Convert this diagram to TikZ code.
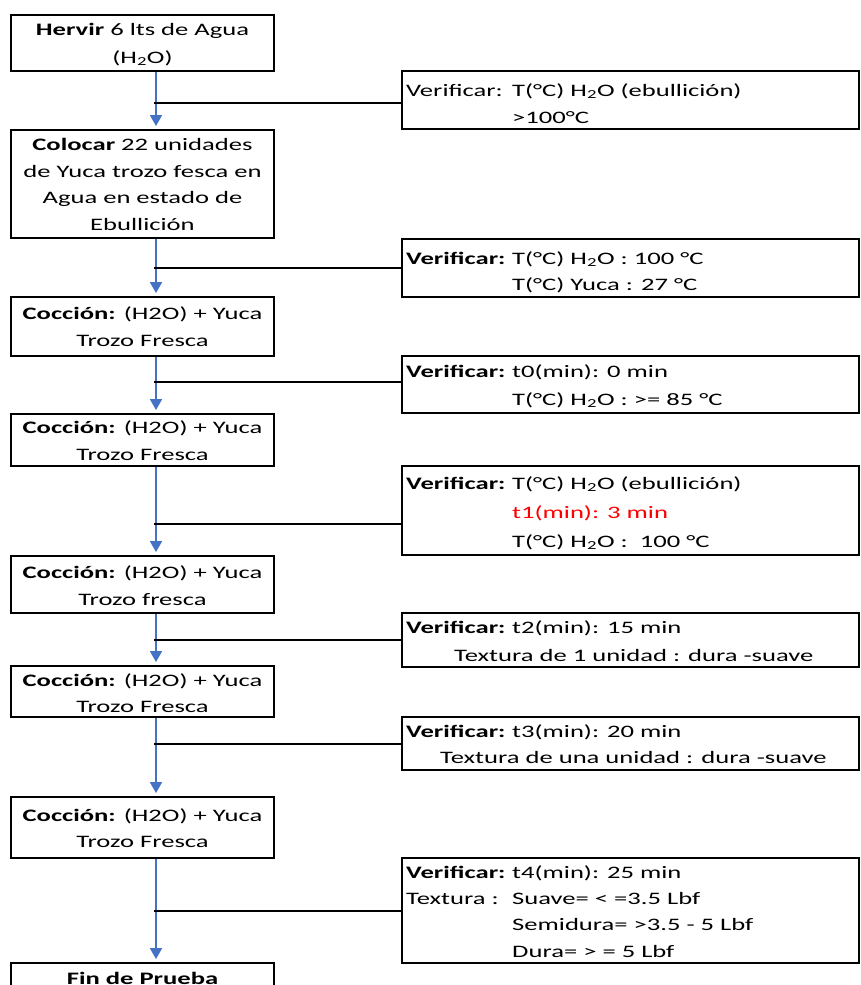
\documentclass[tikz,border=0pt]{standalone}
\usepackage{fontspec}
\setmainfont[FakeStretch=1.52]{Carlito}
\usetikzlibrary{arrows.meta}
\definecolor{arrblue}{HTML}{4472C4}
\definecolor{txtred}{HTML}{FF0000}
\begin{document}
\begin{tikzpicture}[x=1pt,y=-1pt,
  box/.style={draw=black, line width=1.8pt, rectangle, inner sep=0, minimum width=263pt},
  vbox/.style={draw=black, line width=1.8pt, rectangle, inner sep=0, minimum width=457pt},
  txt/.style={inner sep=0, font=\fontsize{17.5}{21}\selectfont},
  ctxt/.style={txt, anchor=base},
  ltxt/.style={txt, anchor=base west},
  arr/.style={draw=arrblue, line width=1.6pt, shorten >=3pt, -{Triangle[width=12pt,length=11pt]}},
  hline/.style={draw=black, line width=1.8pt}]
\useasboundingbox (0,0) rectangle (861,985);
\clip (0,0) rectangle (861,985);
\fill[white] (0,0) rectangle (861,985);
% left boxes
\node[box, minimum height=56pt]  (b1) at (142.5,43) {};
\node[box, minimum height=108pt] (b2) at (142.5,184) {};
\node[box, minimum height=59pt]  (b3) at (142.5,326.5) {};
\node[box, minimum height=52pt]  (b4) at (142.5,440) {};
\node[box, minimum height=57pt]  (b5) at (142.5,584.5) {};
\node[box, minimum height=51pt]  (b6) at (142.5,691.5) {};
\node[box, minimum height=61pt]  (b7) at (142.5,827.5) {};
\node[box, minimum height=42pt]  (b8) at (142.5,984) {};
% verification boxes
\node[vbox, minimum height=58pt]  (v1) at (630.5,100) {};
\node[vbox, minimum height=58pt]  (v2) at (630.5,268) {};
\node[vbox, minimum height=57pt]  (v3) at (630.5,384.5) {};
\node[vbox, minimum height=89pt]  (v4) at (630.5,510.5) {};
\node[vbox, minimum height=54pt]  (v5) at (630.5,640) {};
\node[vbox, minimum height=53pt]  (v6) at (630.5,743.5) {};
\node[vbox, minimum height=105pt] (v7) at (630.5,910.5) {};
% left box texts
\node[ctxt] (b1a) at (142.5,35) {\textbf{Hervir} 6 lts de Agua};
\node[ctxt] (b1b) at (142.5,63) {(H\textsubscript{2}O)};
\node[ctxt] (b2a) at (142.5,150) {\textbf{Colocar} 22 unidades};
\node[ctxt] (b2b) at (142.5,177) {de Yuca trozo fesca en};
\node[ctxt] (b2c) at (142.5,203) {Agua en estado de};
\node[ctxt] (b2d) at (142.5,230) {Ebullición};
\node[ctxt] (b3a) at (142.5,319) {\textbf{Cocción:} (H2O) + Yuca};
\node[ctxt] (b3b) at (142.5,346) {Trozo Fresca};
\node[ctxt] (b4a) at (142.5,433) {\textbf{Cocción:} (H2O) + Yuca};
\node[ctxt] (b4b) at (142.5,460) {Trozo Fresca};
\node[ctxt] (b5a) at (142.5,578) {\textbf{Cocción:} (H2O) + Yuca};
\node[ctxt] (b5b) at (142.5,605) {Trozo fresca};
\node[ctxt] (b6a) at (142.5,686) {\textbf{Cocción:} (H2O) + Yuca};
\node[ctxt] (b6b) at (142.5,712) {Trozo Fresca};
\node[ctxt] (b7a) at (142.5,821) {\textbf{Cocción:} (H2O) + Yuca};
\node[ctxt] (b7b) at (142.5,847) {Trozo Fresca};
\node[ctxt] (b8a) at (142.5,984) {\textbf{Fin de Prueba}};
% verification texts
\node[ltxt] (v1a) at (406,96) {Verificar:};
\node[ltxt] (v1b) at (512,96) {T(°C) H\textsubscript{2}O (ebullición)};
\node[ltxt] (v1c) at (512,123) {>100°C};
\node[ltxt] (v2a) at (406,264) {\textbf{Verificar:}};
\node[ltxt] (v2b) at (512,264) {T(°C) H\textsubscript{2}O : 100 °C};
\node[ltxt] (v2c) at (512,290) {T(°C) Yuca : 27 °C};
\node[ltxt] (v3a) at (406,377) {\textbf{Verificar:}};
\node[ltxt] (v3b) at (512,377) {t0(min): 0 min};
\node[ltxt] (v3c) at (512,405) {T(°C) H\textsubscript{2}O : >= 85 °C};
\node[ltxt] (v4a) at (406,489) {\textbf{Verificar:}};
\node[ltxt] (v4b) at (512,489) {T(°C) H\textsubscript{2}O (ebullición)};
\node[ltxt, text=txtred] (v4c) at (512,518) {t1(min): 3 min};
\node[ltxt] (v4d) at (512,547) {T(°C) H\textsubscript{2}O :\ \ 100 °C};
\node[ltxt] (v5a) at (406,633) {\textbf{Verificar:}};
\node[ltxt] (v5b) at (512,633) {t2(min): 15 min};
\node[ltxt] (v5c) at (454,661) {Textura de 1 unidad : dura -suave};
\node[ltxt] (v6a) at (406,737) {\textbf{Verificar:}};
\node[ltxt] (v6b) at (512,737) {t3(min): 20 min};
\node[ltxt] (v6c) at (440,763) {Textura de una unidad : dura -suave};
\node[ltxt] (v7a) at (406,878) {\textbf{Verificar:}};
\node[ltxt] (v7b) at (512,878) {t4(min): 25 min};
\node[ltxt] (v7c) at (406,904) {Textura :};
\node[ltxt] (v7d) at (512,904) {Suave= < =3.5 Lbf};
\node[ltxt] (v7e) at (512,930) {Semidura= >3.5 - 5 Lbf};
\node[ltxt] (v7f) at (512,957) {Dura= > = 5 Lbf};
% junctions
\coordinate (ax) at (156,0);
\coordinate (j1) at (154,103);
\coordinate (j2) at (154,268);
\coordinate (j3) at (154,382);
\coordinate (j4) at (154,524);
\coordinate (j5) at (154,640);
\coordinate (j6) at (154,744);
\coordinate (j7) at (154,911);
% arrows
\draw[arr] (b1.south -| ax) -- (b2.north -| ax);
\draw[arr] (b2.south -| ax) -- (b3.north -| ax);
\draw[arr] (b3.south -| ax) -- (b4.north -| ax);
\draw[arr] (b4.south -| ax) -- (b5.north -| ax);
\draw[arr] (b5.south -| ax) -- (b6.north -| ax);
\draw[arr] (b6.south -| ax) -- (b7.north -| ax);
\draw[arr] (b7.south -| ax) -- (b8.north -| ax);
% side lines
\draw[hline] (j1) -- (j1 -| v1.west);
\draw[hline] (j2) -- (j2 -| v2.west);
\draw[hline] (j3) -- (j3 -| v3.west);
\draw[hline] (j4) -- (j4 -| v4.west);
\draw[hline] (j5) -- (j5 -| v5.west);
\draw[hline] (j6) -- (j6 -| v6.west);
\draw[hline] (j7) -- (j7 -| v7.west);
\end{tikzpicture}
\end{document}
